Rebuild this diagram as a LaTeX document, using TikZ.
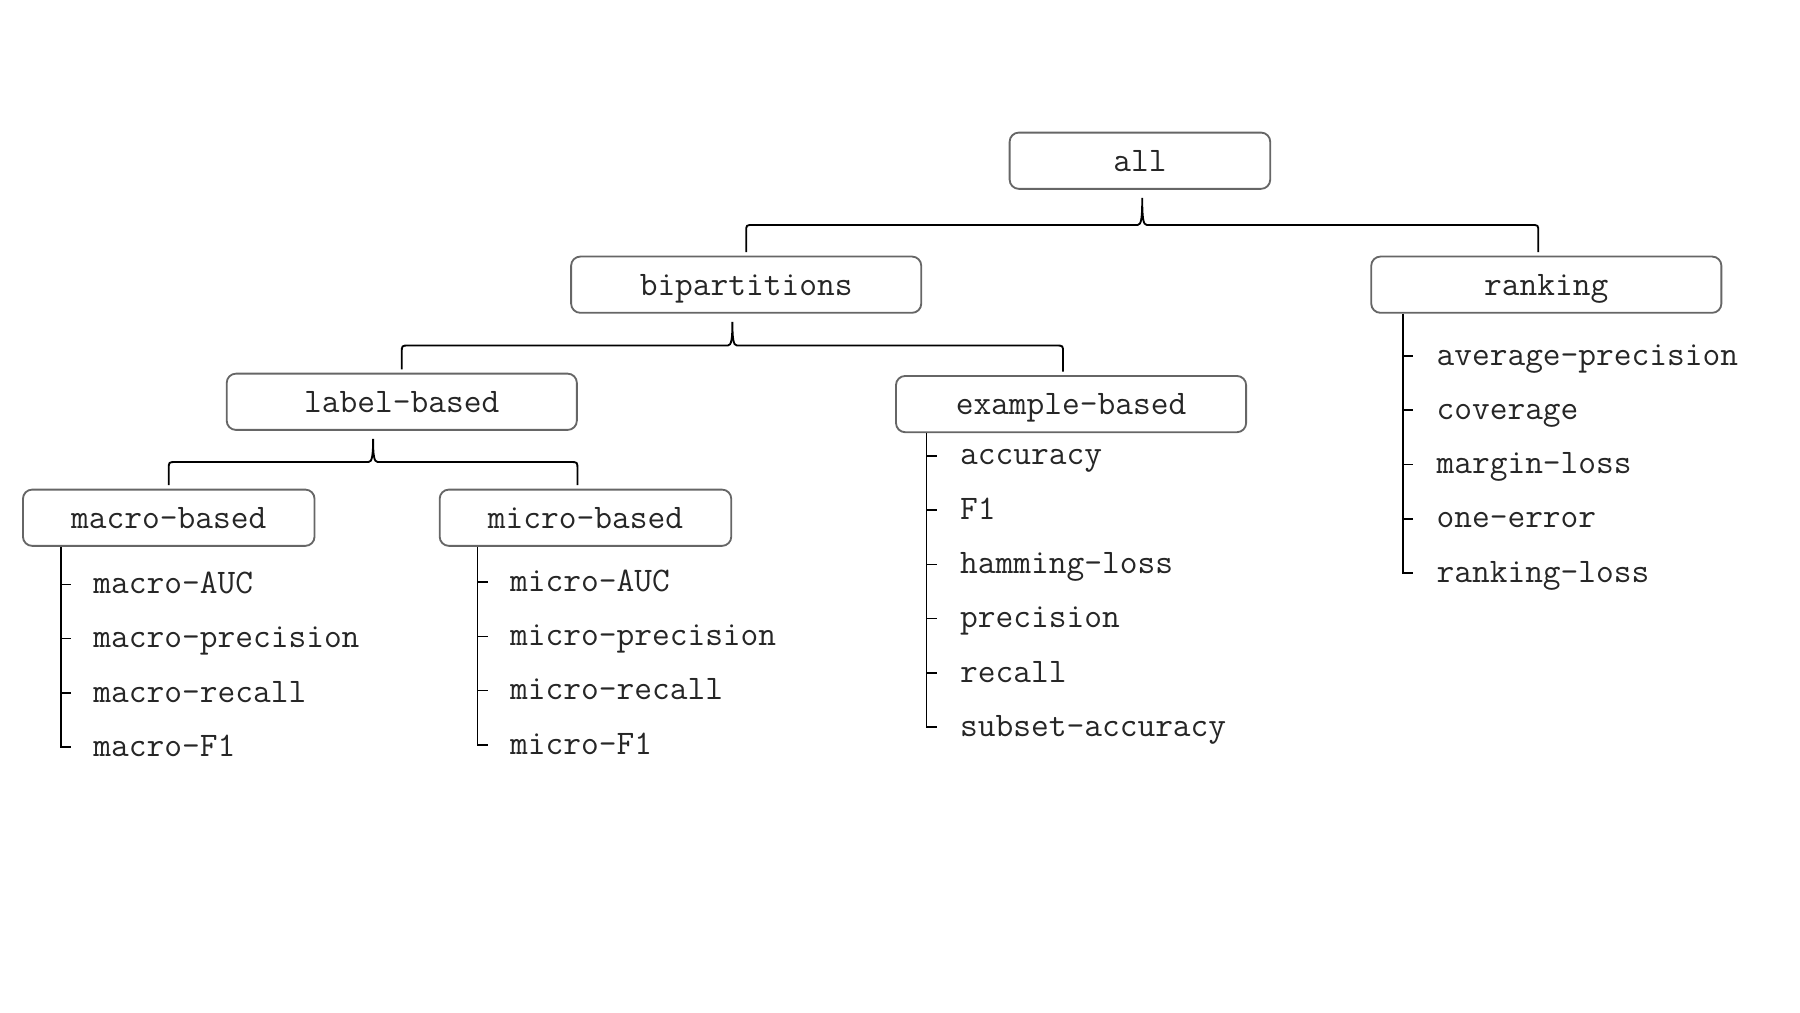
\documentclass[tikz,border=0pt]{standalone}
\usepackage{fontspec}
\usetikzlibrary{positioning,calc}

% bracket from a parent box down to two child boxes
\newcommand{\splitbrace}[3]{%
  \draw[brace line] let \p1=(#1.south), \p2=(#2.north), \p3=([xshift=-3.5pt]#3.north),
    \n1={0.5*(\y1+\y2)-1pt}, \n2={0.5*(\x2+\x3)} in
    (\x2,\y2+1.5pt) -- (\x2,\n1-3pt) .. controls (\x2,\n1) .. (\x2+3pt,\n1)
    -- (\n2-2pt,\n1) .. controls (\n2-0.4pt,\n1) and (\n2,\n1+3pt) .. (\n2,\y1-3.5pt)
    .. controls (\n2,\n1+3pt) and (\n2+0.4pt,\n1) .. (\n2+2pt,\n1)
    -- (\x3-3pt,\n1) .. controls (\x3,\n1) .. (\x3,\n1-3pt) -- (\x3,\y3+1.5pt);}

\begin{document}
\begin{tikzpicture}[x=0.5pt,y=-0.5pt,node distance=23.65pt,
  metric/.style={font=\ttfamily\fontsize{15}{17}\selectfont,text=black!85},
  catbox/.style={metric,draw=black!60,line width=0.8pt,rounded corners=4pt,minimum height=24.5pt,inner sep=0pt,text height=9.5pt,text depth=0pt},
  widebox/.style={catbox,minimum width=152.5pt},
  smallbox/.style={catbox,minimum width=127pt},
  leaf/.style={metric,anchor=west,inner sep=0pt,text width=140pt,align=left,text height=8pt,text depth=0pt},
  stem/.style={line width=0.7pt},
  brace line/.style={line width=0.8pt}]

\useasboundingbox (0,0) rectangle (1568,882);

\node[catbox,minimum width=113.5pt] (all) at (993,140) {all};
\node[widebox] (bip) at (650,248) {bipartitions};
\node[widebox] (rank) at (1347,248) {ranking};
\node[widebox] (label) at (350,350) {label-based};
\node[widebox] (example) at (933,352) {example-based};
\node[smallbox] (macro) at (147,451) {macro-based};
\node[smallbox] (micro) at (510,451) {micro-based};

\splitbrace{all}{bip}{rank}
\splitbrace{bip}{label}{example}
\splitbrace{label}{macro}{micro}

% macro
\node[leaf] (maAUC) at (81,509) {macro-AUC};
\node[leaf] (maPrec) [below of=maAUC] {macro-precision};
\node[leaf] (maRec) [below of=maPrec] {macro-recall};
\node[leaf] (maF) [below of=maRec] {macro-F1};

% micro
\node[leaf] (miAUC) at (444,507) {micro-AUC};
\node[leaf] (miPrec) [below of=miAUC] {micro-precision};
\node[leaf] (miRec) [below of=miPrec] {micro-recall};
\node[leaf] (miF) [below of=miRec] {micro-F1};

% example
\node[leaf] (acc) at (836,397) {accuracy};
\node[leaf] (exF) [below of=acc] {F1};
\node[leaf] (ham) [below of=exF] {hamming-loss};
\node[leaf] (prec) [below of=ham] {precision};
\node[leaf] (rec) [below of=prec] {recall};
\node[leaf] (subacc) [below of=rec] {subset-accuracy};

% ranking
\node[leaf] (avgp) at (1251,310) {average-precision};
\node[leaf] (cov) [below of=avgp] {coverage};
\node[leaf] (marg) [below of=cov] {margin-loss};
\node[leaf] (oneerr) [below of=marg] {one-error};
\node[leaf] (rloss) [below of=oneerr] {ranking-loss};

\draw[stem] ([xshift=-14pt]maAUC.west |- macro.south) |- ([xshift=-9.5pt]maF.west);
\draw[stem] ([xshift=-14pt]miAUC.west |- micro.south) |- ([xshift=-9.5pt]miF.west);
\draw[stem] ([xshift=-14.5pt]acc.west |- example.south) |- ([xshift=-10pt]subacc.west);
\draw[stem] ([xshift=-14.5pt]avgp.west |- rank.south) |- ([xshift=-10pt]rloss.west);

\draw[stem] ([xshift=-14pt]maAUC.west) -- ([xshift=-9.5pt]maAUC.west);
\draw[stem] ([xshift=-14pt]maPrec.west) -- ([xshift=-9.5pt]maPrec.west);
\draw[stem] ([xshift=-14pt]maRec.west) -- ([xshift=-9.5pt]maRec.west);
\draw[stem] ([xshift=-14pt]miAUC.west) -- ([xshift=-9.5pt]miAUC.west);
\draw[stem] ([xshift=-14pt]miPrec.west) -- ([xshift=-9.5pt]miPrec.west);
\draw[stem] ([xshift=-14pt]miRec.west) -- ([xshift=-9.5pt]miRec.west);
\draw[stem] ([xshift=-14.5pt]acc.west) -- ([xshift=-10pt]acc.west);
\draw[stem] ([xshift=-14.5pt]exF.west) -- ([xshift=-10pt]exF.west);
\draw[stem] ([xshift=-14.5pt]ham.west) -- ([xshift=-10pt]ham.west);
\draw[stem] ([xshift=-14.5pt]prec.west) -- ([xshift=-10pt]prec.west);
\draw[stem] ([xshift=-14.5pt]rec.west) -- ([xshift=-10pt]rec.west);
\draw[stem] ([xshift=-14.5pt]avgp.west) -- ([xshift=-10pt]avgp.west);
\draw[stem] ([xshift=-14.5pt]cov.west) -- ([xshift=-10pt]cov.west);
\draw[stem] ([xshift=-14.5pt]marg.west) -- ([xshift=-10pt]marg.west);
\draw[stem] ([xshift=-14.5pt]oneerr.west) -- ([xshift=-10pt]oneerr.west);

\end{tikzpicture}
\end{document}
